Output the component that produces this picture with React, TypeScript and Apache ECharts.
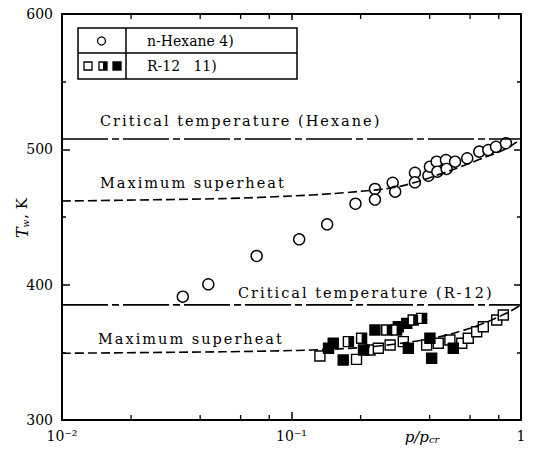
import React, { useEffect, useRef } from 'react';
import * as echarts from 'echarts';

// ---- data ----
const hexaneP = [0.0336, 0.0434, 0.0705, 0.108, 0.143, 0.19, 0.231, 0.231, 0.276, 0.283, 0.345, 0.345, 0.395, 0.401, 0.429, 0.432, 0.471, 0.474, 0.516, 0.583, 0.658, 0.72, 0.778, 0.86];
const hexaneT = [391.1, 400.3, 421.2, 433.5, 444.6, 459.8, 470.7, 462.9, 475.3, 468.7, 482.7, 475.6, 480.5, 487.2, 490.9, 483.5, 492.1, 485.5, 490.9, 493.4, 498.3, 499.5, 501.9, 504.5];

const r12OpenP = [0.133, 0.192, 0.22, 0.239, 0.269, 0.307, 0.388, 0.436, 0.49, 0.552, 0.589, 0.641, 0.685, 0.784, 0.837];
const r12OpenT = [347.3, 344.8, 351.7, 353, 355.4, 357.9, 355.4, 356.7, 359.1, 356.7, 360.4, 365.2, 368.9, 373.9, 377.6];
const r12FilledP = [0.145, 0.152, 0.168, 0.206, 0.231, 0.292, 0.318, 0.323, 0.401, 0.408, 0.507];
const r12FilledT = [353, 356.7, 344.3, 351.7, 366.5, 368.9, 371.4, 353, 360.4, 345.6, 353];
const r12HalfP = [0.177, 0.202, 0.26, 0.287, 0.339, 0.369];
const r12HalfT = [357.9, 360.4, 366.5, 366.5, 373.9, 375.1];

const hexSuperheatP = [0.01, 0.05, 0.1, 0.15, 0.2, 0.25, 0.3, 0.35, 0.4, 0.5, 0.6, 0.7, 0.8, 0.9, 1.0];
const hexSuperheatT = [461.8, 463.6, 465.5, 467.2, 469, 470.6, 472.8, 475.8, 479, 484.8, 489.8, 494.3, 498, 502.3, 507.6];
const r12SuperheatP = [0.01, 0.05, 0.1, 0.15, 0.2, 0.25, 0.3, 0.4, 0.5, 0.6, 0.7, 0.8, 0.9, 1.0];
const r12SuperheatT = [349.3, 350.4, 351.3, 352.3, 353.5, 355, 356.7, 360, 363.8, 367.8, 372, 376.3, 380.5, 385.1];

const criticalHexane = 507.6;
const criticalR12 = 385.1;
const pRange = [0.01, 1];
const tRange = [300, 600];
const xMinorTicks = [0.02, 0.04, 0.06, 0.08, 0.2, 0.4, 0.6, 0.8];
const xTickLabels: Record<string, string> = { '-2': '10⁻²', '-1': '10⁻¹', '0': '1' };

const FONT = 'DejaVu Serif';
const zip = (a: number[], b: number[]) => a.map((v, i) => [v, b[i]]);

export default function App() {
  const ref = useRef<HTMLDivElement>(null);
  useEffect(() => {
    if (!ref.current) return;
    const chart = echarts.init(ref.current, undefined, { renderer: 'svg' });
    const axisLine = { show: true, lineStyle: { color: '#000', width: 2 } };
    const tickStyle = { color: '#000', width: 1.5 };
    const pointStyle = { color: '#fff', borderColor: '#000', borderWidth: 1.4, opacity: 1 };
    const annot = (text: string, x: number, y: number) => ({
      type: 'text', x, y,
      style: { text, fontFamily: FONT, fontSize: 14.5, fill: '#000', align: 'left', verticalAlign: 'middle', textAlign: 'left', textVerticalAlign: 'middle' },
    });
    const option: any = {
      animation: false,
      backgroundColor: '#fff',
      grid: { left: 62, right: 12, top: 14, bottom: 39 },
      xAxis: [
        {
          type: 'log', logBase: 10, min: pRange[0], max: pRange[1], position: 'bottom',
          axisLine, axisTick: { show: true, inside: true, length: 8, lineStyle: tickStyle },
          minorTick: { show: false }, splitLine: { show: false }, minorSplitLine: { show: false },
          axisLabel: {
            color: '#000', fontFamily: FONT, fontSize: 14, margin: 9,
            formatter: (v: number) => xTickLabels[String(Math.round(Math.log10(v)))] || '',
          },
        },
        {
          type: 'log', logBase: 10, min: pRange[0], max: pRange[1], position: 'top',
          axisLine, axisTick: { show: true, inside: true, length: 6, lineStyle: tickStyle },
          minorTick: { show: false }, splitLine: { show: false }, axisLabel: { show: false },
        },
      ],
      yAxis: [
        {
          type: 'value', min: tRange[0], max: tRange[1], interval: 100, position: 'left',
          axisLine, axisTick: { show: true, inside: true, length: 8, lineStyle: tickStyle },
          minorTick: { show: true, splitNumber: 2, length: 4, lineStyle: tickStyle },
          splitLine: { show: false },
          axisLabel: { color: '#000', fontFamily: FONT, fontSize: 14, margin: 9 },
        },
        {
          type: 'value', min: tRange[0], max: tRange[1], interval: 100, position: 'right',
          axisLine, axisTick: { show: true, inside: true, length: 7, lineStyle: tickStyle },
          minorTick: { show: true, splitNumber: 2, length: 4, lineStyle: tickStyle },
          splitLine: { show: false }, axisLabel: { show: false },
        },
      ],
      series: [
        {
          type: 'custom', xAxisIndex: 0, yAxisIndex: 0, silent: true, clip: false,
          data: xMinorTicks.map((p) => [p, tRange[0]]),
          renderItem: (params: any, api: any) => {
            const p = api.value(0);
            const b = api.coord([p, tRange[0]]);
            const t = api.coord([p, tRange[1]]);
            return {
              type: 'group',
              children: [
                { type: 'line', shape: { x1: b[0], y1: b[1], x2: b[0], y2: b[1] - 5 }, style: { stroke: '#000', lineWidth: 1.3 } },
                { type: 'line', shape: { x1: t[0], y1: t[1], x2: t[0], y2: t[1] + 5 }, style: { stroke: '#000', lineWidth: 1.3 } },
              ],
            };
          },
        },
        {
          type: 'line', symbol: 'none', silent: true,
          data: [[pRange[0], criticalHexane], [pRange[1], criticalHexane]],
          lineStyle: { color: '#000', width: 1.6, type: [46, 4, 7, 4] },
        },
        {
          type: 'line', symbol: 'none', silent: true,
          data: [[pRange[0], criticalR12], [pRange[1], criticalR12]],
          lineStyle: { color: '#000', width: 1.6, type: [46, 4, 7, 4] },
        },
        {
          type: 'line', symbol: 'none', smooth: 0.3, silent: true,
          data: zip(hexSuperheatP, hexSuperheatT),
          lineStyle: { color: '#000', width: 1.6, type: [9, 4] },
        },
        {
          type: 'line', symbol: 'none', smooth: 0.3, silent: true,
          data: zip(r12SuperheatP, r12SuperheatT),
          lineStyle: { color: '#000', width: 1.6, type: [9, 4] },
        },
        {
          name: 'n-Hexane', type: 'scatter', symbol: 'circle', symbolSize: 11,
          data: zip(hexaneP, hexaneT), itemStyle: pointStyle,
        },
        {
          name: 'R-12 open', type: 'scatter', symbol: 'rect', symbolSize: 10,
          data: zip(r12OpenP, r12OpenT), itemStyle: pointStyle,
        },
        {
          name: 'R-12 filled', type: 'scatter', symbol: 'rect', symbolSize: 10,
          data: zip(r12FilledP, r12FilledT), itemStyle: { color: '#000', borderColor: '#000', borderWidth: 1.4, opacity: 1 },
        },
        {
          name: 'R-12 half', type: 'scatter', symbol: 'rect', symbolSize: 10,
          data: zip(r12HalfP, r12HalfT), itemStyle: pointStyle,
        },
        {
          name: 'R-12 half fill', type: 'scatter', symbol: 'rect', symbolSize: [5, 10], symbolOffset: [2.5, 0],
          data: zip(r12HalfP, r12HalfT), itemStyle: { color: '#000', borderWidth: 0, opacity: 1 },
        },
      ],
      graphic: {
        elements: [
          { type: 'rect', shape: { x: 78, y: 28, width: 219, height: 51 }, style: { fill: '#fff', stroke: '#000', lineWidth: 1.5 }, z: 10 },
          { type: 'line', shape: { x1: 78, y1: 53, x2: 297, y2: 53 }, style: { stroke: '#000', lineWidth: 1.5 }, z: 11 },
          { type: 'line', shape: { x1: 126, y1: 28, x2: 126, y2: 79 }, style: { stroke: '#000', lineWidth: 1.5 }, z: 11 },
          { type: 'circle', shape: { cx: 101.5, cy: 41, r: 4 }, style: { fill: '#fff', stroke: '#000', lineWidth: 1.3 }, z: 11 },
          { type: 'rect', shape: { x: 84, y: 62, width: 8, height: 8 }, style: { fill: '#fff', stroke: '#000', lineWidth: 1.3 }, z: 11 },
          { type: 'rect', shape: { x: 99, y: 62, width: 8, height: 8 }, style: { fill: '#fff', stroke: '#000', lineWidth: 1.3 }, z: 11 },
          { type: 'rect', shape: { x: 103, y: 62, width: 4, height: 8 }, style: { fill: '#000' }, z: 12 },
          { type: 'rect', shape: { x: 113, y: 62, width: 8, height: 8 }, style: { fill: '#000', stroke: '#000', lineWidth: 1.3 }, z: 11 },
          {
            type: 'text', x: 147, y: 41, z: 12,
            style: { text: 'n-Hexane 4)', fontFamily: FONT, fontSize: 14, fill: '#000', align: 'left', verticalAlign: 'middle', textAlign: 'left', textVerticalAlign: 'middle' },
          },
          {
            type: 'text', x: 147, y: 66, z: 12,
            style: { text: 'R-12\u00a0\u00a0\u00a011)', fontFamily: FONT, fontSize: 14, fill: '#000', align: 'left', verticalAlign: 'middle', textAlign: 'left', textVerticalAlign: 'middle' },
          },
          annot('Critical temperature (Hexane)', 100, 121),
          annot('Maximum superheat', 100, 183),
          annot('Critical temperature (R-12)', 238, 293),
          annot('Maximum superheat', 98, 339),
          {
            type: 'text', x: 422, y: 437,
            style: {
              text: 'p/p{s|cr}', fontFamily: FONT, fontSize: 15, fontStyle: 'italic', fill: '#000',
              align: 'center', verticalAlign: 'middle', textAlign: 'center', textVerticalAlign: 'middle',
              rich: {
                s: { fontFamily: FONT, fontSize: 10, fontStyle: 'italic', fill: '#000', verticalAlign: 'bottom', padding: [5, 0, 0, 0] },
              },
            },
          },
          {
            type: 'text', x: 22, y: 218, rotation: Math.PI / 2,
            style: {
              text: '{i|T}{s|w}{n|, K}', fill: '#000',
              align: 'center', verticalAlign: 'middle', textAlign: 'center', textVerticalAlign: 'middle',
              rich: {
                i: { fontFamily: FONT, fontSize: 16, fontStyle: 'italic', fill: '#000', verticalAlign: 'middle' },
                s: { fontFamily: FONT, fontSize: 9, fontStyle: 'italic', fill: '#000', verticalAlign: 'bottom', padding: [6, 1, 0, 0] },
                n: { fontFamily: FONT, fontSize: 15, fill: '#000', verticalAlign: 'middle' },
              },
            },
          },
        ],
      },
    };
    chart.setOption(option);
    return () => chart.dispose();
  }, []);
  return (
    <>
      <style>{`text[style*="14.5px"]{letter-spacing:2px;}`}</style>
      <div ref={ref} style={{ position: 'absolute', left: 0, top: 0, width: 533, height: 459 }} />
    </>
  );
}
